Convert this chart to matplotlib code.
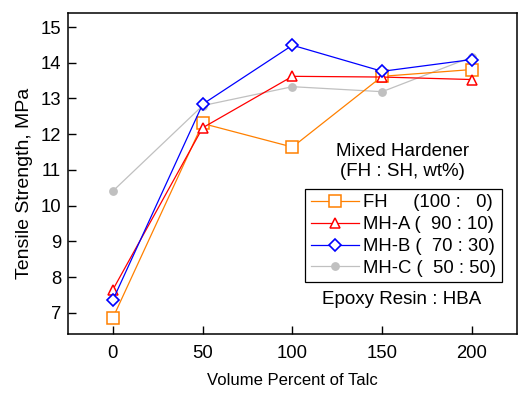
import matplotlib
matplotlib.use("Agg")
import matplotlib.pyplot as plt

plt.rcParams['font.family'] = ['Liberation Sans', 'DejaVu Sans']

talc = [0, 50, 100, 150, 200]
fh = [6.86, 12.30, 11.64, 13.62, 13.81]
mh_a = [7.65, 12.18, 13.62, 13.60, 13.53]
mh_b = [7.36, 12.84, 14.49, 13.76, 14.09]
mh_c = [10.41, 12.80, 13.33, 13.19, 14.16]

labels = ["FH     (100 :   0)", "MH-A (  90 : 10)", "MH-B (  70 : 30)", "MH-C (  50 : 50)"]
xticks = [0, 50, 100, 150, 200]
yticks = [7, 8, 9, 10, 11, 12, 13, 14, 15]

fig = plt.figure(figsize=(5.21, 3.96), dpi=100)
ax = fig.add_axes([0.1305, 0.1566, 0.8615, 0.8104])

ax.plot(talc, fh, color='#FF8000', lw=0.9, marker='s', ms=8, mfc='white', mec='#FF8000', mew=1.1, label=labels[0], zorder=3)
ax.plot(talc, mh_a, color='#FF0000', lw=0.9, marker='^', ms=7, mfc='white', mec='#FF0000', mew=1.1, label=labels[1], zorder=4)
ax.plot(talc, mh_b, color='#0000FF', lw=0.9, marker='D', ms=6.3, mfc='white', mec='#0000FF', mew=1.2, label=labels[2], zorder=5)
ax.plot(talc, mh_c, color='#C0C0C0', lw=0.9, marker='o', ms=5.3, mfc='#C0C0C0', mec='#C0C0C0', label=labels[3], zorder=2)

ax.set_xlim(-25, 225)
ax.set_ylim(6.41, 15.39)
ax.set_xticks(xticks)
ax.set_yticks(yticks)
ax.tick_params(direction='in', length=6, width=1, labelsize=13.3, top=False, right=False)
ax.tick_params(axis='x', pad=8)
ax.tick_params(axis='y', pad=5)
for s in ax.spines.values():
    s.set_linewidth(1.1)

ax.set_xlabel("Volume Percent of Talc", fontsize=12, labelpad=8)
ax.set_ylabel("Tensile Strength, MPa", fontsize=14)
ax.yaxis.set_label_coords(-0.078, 0.47)

ax.text(0.746, 0.537, "Mixed Hardener\n(FH : SH, wt%)", transform=ax.transAxes,
        ha='center', va='center', fontsize=13.5, linespacing=1.25)
ax.text(0.743, 0.109, "Epoxy Resin : HBA", transform=ax.transAxes,
        ha='center', va='center', fontsize=13.5)

leg = ax.legend(loc='upper left', bbox_to_anchor=(0.528, 0.452), borderaxespad=0,
                fontsize=13.3, frameon=True, fancybox=False, handlelength=2.6,
                handletextpad=0.25, labelspacing=0.26, borderpad=0.3,
                edgecolor='black', framealpha=1)
leg.get_frame().set_linewidth(0.9)

fig.savefig("out.png", dpi=100)
